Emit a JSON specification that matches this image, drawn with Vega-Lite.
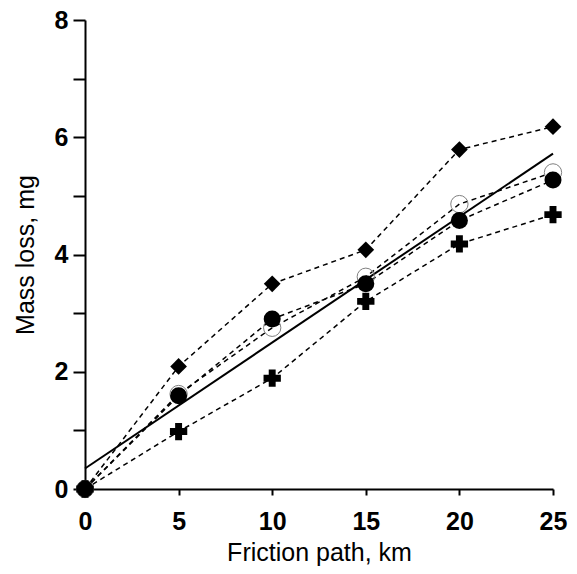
{
  "$schema": "https://vega.github.io/schema/vega-lite/v6.json",
  "width": 468,
  "height": 469,
  "autosize": {"type": "none"},
  "padding": {"left": 85, "top": 20, "right": 24, "bottom": 85},
  "background": "white",
  "config": {
    "view": {"stroke": null},
    "font": "Liberation Sans",
    "axis": {
      "grid": false,
      "domainColor": "black",
      "domainWidth": 2,
      "tickColor": "black",
      "tickWidth": 2,
      "labelColor": "black",
      "labelFont": "Liberation Sans",
      "labelFontWeight": "bold",
      "labelFontSize": 25,
      "labelFlush": false,
      "titleFont": "Liberation Sans",
      "titleFontWeight": "normal",
      "titleFontSize": 25,
      "titleColor": "black"
    }
  },
  "datasets": {
    "pts": [
      {"series": "diamond", "path": 0, "loss": 0},
      {"series": "diamond", "path": 5, "loss": 2.09},
      {"series": "diamond", "path": 10, "loss": 3.5},
      {"series": "diamond", "path": 15, "loss": 4.08},
      {"series": "diamond", "path": 20, "loss": 5.79},
      {"series": "diamond", "path": 25, "loss": 6.18},
      {"series": "open", "path": 0, "loss": 0},
      {"series": "open", "path": 5, "loss": 1.62},
      {"series": "open", "path": 10, "loss": 2.75},
      {"series": "open", "path": 15, "loss": 3.62},
      {"series": "open", "path": 20, "loss": 4.86},
      {"series": "open", "path": 25, "loss": 5.4},
      {"series": "filled", "path": 0, "loss": 0},
      {"series": "filled", "path": 5, "loss": 1.59},
      {"series": "filled", "path": 10, "loss": 2.9},
      {"series": "filled", "path": 15, "loss": 3.5},
      {"series": "filled", "path": 20, "loss": 4.58},
      {"series": "filled", "path": 25, "loss": 5.27},
      {"series": "cross", "path": 0, "loss": 0},
      {"series": "cross", "path": 5, "loss": 0.98},
      {"series": "cross", "path": 10, "loss": 1.89},
      {"series": "cross", "path": 15, "loss": 3.2},
      {"series": "cross", "path": 20, "loss": 4.18},
      {"series": "cross", "path": 25, "loss": 4.68}
    ],
    "fit": [
      {"path": 0, "loss": 0.35},
      {"path": 25, "loss": 5.72}
    ]
  },
  "layer": [
    {
      "data": {"name": "pts"},
      "mark": {"type": "line", "color": "black", "strokeWidth": 1.5, "strokeDash": [5, 4], "clip": false},
      "encoding": {
        "x": {"field": "path", "type": "quantitative", "scale": {"domain": [0, 25], "nice": false}, "axis": {"values": [0, 5, 10, 15, 20, 25], "format": "d", "tickSize": 6, "labelPadding": 14, "title": "Friction path, km", "titlePadding": 6}},
        "y": {"field": "loss", "type": "quantitative", "scale": {"domain": [0, 8], "nice": false}, "axis": {"values": [0, 1, 2, 3, 4, 5, 6, 7, 8], "format": "d", "labelExpr": "datum.value % 2 == 0 ? datum.label : ''", "tickSize": 12, "labelPadding": 5, "title": "Mass loss, mg", "titlePadding": 16}},
        "detail": {"field": "series"}
      }
    },
    {
      "data": {"name": "fit"},
      "mark": {"type": "line", "color": "black", "strokeWidth": 2, "clip": false},
      "encoding": {
        "x": {"field": "path", "type": "quantitative"},
        "y": {"field": "loss", "type": "quantitative"}
      }
    },
    {
      "data": {"name": "pts"},
      "transform": [{"filter": "datum.series == 'open'"}],
      "mark": {"type": "point", "shape": "circle", "filled": false, "stroke": "#808080", "strokeWidth": 1, "size": 300, "opacity": 1, "clip": false},
      "encoding": {
        "x": {"field": "path", "type": "quantitative"},
        "y": {"field": "loss", "type": "quantitative"}
      }
    },
    {
      "data": {"name": "pts"},
      "transform": [{"filter": "datum.series == 'diamond'"}],
      "mark": {"type": "point", "shape": "diamond", "filled": true, "color": "black", "size": 280, "opacity": 1, "clip": false},
      "encoding": {
        "x": {"field": "path", "type": "quantitative"},
        "y": {"field": "loss", "type": "quantitative"}
      }
    },
    {
      "data": {"name": "pts"},
      "transform": [{"filter": "datum.series == 'cross'"}],
      "mark": {"type": "point", "shape": "cross", "filled": true, "color": "black", "size": 300, "opacity": 1, "clip": false},
      "encoding": {
        "x": {"field": "path", "type": "quantitative"},
        "y": {"field": "loss", "type": "quantitative"}
      }
    },
    {
      "data": {"name": "pts"},
      "transform": [{"filter": "datum.series == 'filled'"}],
      "mark": {"type": "point", "shape": "circle", "filled": true, "color": "black", "size": 289, "opacity": 1, "clip": false},
      "encoding": {
        "x": {"field": "path", "type": "quantitative"},
        "y": {"field": "loss", "type": "quantitative"}
      }
    }
  ]
}
